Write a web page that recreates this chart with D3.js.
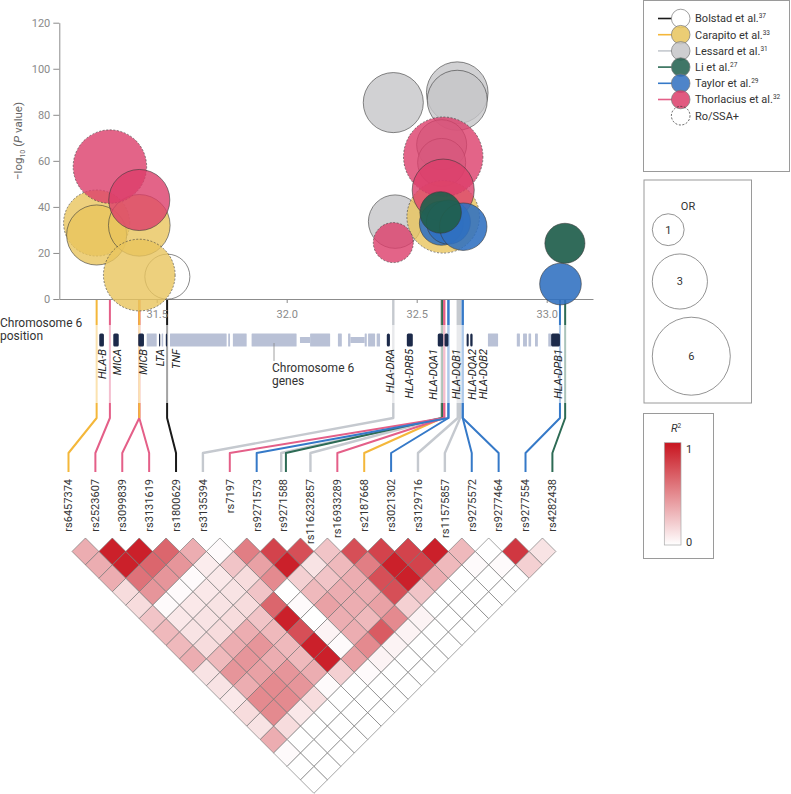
<!DOCTYPE html>
<html><head><meta charset="utf-8">
<script src="https://cdn.jsdelivr.net/npm/d3@7"></script>
<style>
body{margin:0;background:#fff;}
svg{display:block;font-family:Roboto,"Liberation Sans",Arial,sans-serif;}
</style></head><body>
<svg id="chart" width="791" height="794"></svg>
<script>
// ---------- DATA ----------
const studies = ["Bolstad et al.","Carapito et al.","Lessard et al.","Li et al.","Taylor et al.","Thorlacius et al."];
const studyRefs = ["37","33","31","27","29","32"];
const studyFill = ["#ffffff","#e8c45c","#c6c6c8","#1f5e4c","#2f6fc0","#dc3d6a"];
const studyLine = ["#1a1a1a","#f4b73a","#c5c9cf","#2d6b55","#3579c8","#e45f88"];
const bubbleDrawOrder = ["Bolstad et al.","Lessard et al.","Carapito et al.","Thorlacius et al.","Taylor et al.","Li et al."];

const bubbleStudy = ["Thorlacius et al.","Thorlacius et al.","Carapito et al.","Carapito et al.","Carapito et al.","Carapito et al.","Bolstad et al.",
  "Lessard et al.","Lessard et al.","Lessard et al.","Lessard et al.","Lessard et al.","Lessard et al.",
  "Thorlacius et al.","Thorlacius et al.","Thorlacius et al.","Carapito et al.","Taylor et al.","Taylor et al.","Taylor et al.","Li et al.","Li et al.","Taylor et al."];
const bubblePos = [31.320,31.433,31.269,31.269,31.433,31.433,31.541,
  32.410,32.656,32.656,32.417,32.596,32.596,
  32.602,32.602,32.410,32.602,32.595,32.622,32.679,32.592,33.070,33.053];
const bubbleLogP = [57.5,43.0,33.0,27.8,32.0,10.4,9.7,
  85.3,89.6,86.3,33.6,67.0,59.3,
  61.8,47.3,24.5,35.7,32.9,33.4,31.4,37.6,24.2,6.5];
const bubbleOR = [5.33,3.68,4.31,3.56,3.75,5.07,2.0,
  3.56,3.75,3.56,2.82,2.47,2.28,
  6.23,3.8,1.58,5.2,1.91,1.91,2.22,1.7,1.58,1.71];
const bubbleRo = [true,false,true,false,false,true,false,
  false,false,false,false,false,false,
  true,false,true,true,false,false,false,false,false,false];

const yTicks = [0,20,40,60,80,100,120];
const xTicks = [31.5,32.0,32.5,33.0];
const orLegend = [1,3,6];

const snps = ["rs6457374","rs2523607","rs3099839","rs3131619","rs1800629","rs3135394","rs7197","rs9271573","rs9271588",
  "rs116232857","rs16933289","rs2187668","rs3021302","rs3129716","rs11575857","rs9275572","rs9277464","rs9277554","rs4282438"];

// connections (draw order)
const connStudy = ["Lessard et al.","Lessard et al.","Lessard et al.","Lessard et al.","Lessard et al.",
  "Carapito et al.","Carapito et al.","Li et al.","Li et al.",
  "Thorlacius et al.","Thorlacius et al.","Thorlacius et al.","Carapito et al.","Thorlacius et al.","Thorlacius et al.",
  "Taylor et al.","Taylor et al.","Taylor et al.","Taylor et al.","Taylor et al.","Bolstad et al."];
const connPos = [32.410,32.596,32.596,32.658,32.667,
  31.269,32.598,32.598,33.071,
  31.320,31.433,31.433,31.433,32.606,32.606,
  32.622,32.622,32.677,32.677,33.051,31.540];
const connSnp = [5,8,9,13,14, 0,11,8,18, 1,2,3,-1,6,10, 7,12,15,16,17,4];

// genes (Mb)
const geneStart = [31.4615,31.519,31.551,31.775,31.793,31.865,32.051,32.09,32.197,32.236,32.245,32.30,32.313,32.346,32.774,32.885,32.909,32.93,32.955,33.006,
  31.279,31.333,31.429,31.509,31.535,32.385,32.462,32.581,32.607,32.692,32.706,33.017];
const geneEnd = [31.5,31.525,31.769,31.782,31.846,32.038,32.09,32.167,32.212,32.245,32.30,32.308,32.34,32.359,32.813,32.897,32.924,32.94,32.966,33.017,
  31.297,31.354,31.451,31.513,31.54,32.397,32.485,32.602,32.622,32.70,32.715,33.051];
const geneKind = ["l","l","l","l","l","l","t","l","l","l","t","l","l","l","l","l","l","l","l","l",
  "n","n","n","n","n","n","n","n","n","n","n","n"];
const geneLabels = ["HLA-B","MICA","MICB","LTA","TNF","HLA-DRA","HLA-DRB5","HLA-DQA1","HLA-DQB1","HLA-DQA2","HLA-DQB2","HLA-DPB1"];
const geneLabelPos = [31.292,31.347,31.447,31.512,31.574,32.397,32.472,32.564,32.651,32.712,32.756,33.045];

// LD r2, rows by SNP distance (1..18)
const ldByDistance = [
  [0.35,0.95,0.95,0.65,0.35,0.02,0.55,0.8,0.75,0.25,0.75,0.8,0.8,0.95,0.3,0.0,0.85,0.12],
  [0.35,0.95,0.65,0.45,0.08,0.25,0.4,0.95,0.12,0.3,0.55,0.95,0.8,0.3,0.02,0.02,0.2],
  [0.35,0.6,0.45,0.02,0.1,0.15,0.5,0.2,0.25,0.35,0.75,0.95,0.35,0,0,0],
  [0.15,0.45,0.02,0.1,0.12,0.25,0.0,0.3,0.35,0.35,0.75,0.25,0,0,0],
  [0.15,0.02,0.1,0.12,0.15,0.65,0.02,0.4,0.35,0.4,0.2,0,0,0],
  [0.25,0.1,0.12,0.15,0.25,0.95,0.0,0.35,0.3,0.5,0.05,0,0],
  [0.3,0.12,0.15,0.35,0.3,0.75,0.05,0.35,0.7,0.05,0,0],
  [0.3,0.15,0.35,0.45,0.3,0.95,0.02,0.5,0.05,0,0],
  [0.35,0.3,0.45,0.35,0.3,0.95,0.4,0.05,0,0],
  [0.12,0.45,0.4,0.45,0.35,0.2,0.02,0,0],
  [0.12,0.35,0.5,0.45,0.02,0,0,0],
  [0.1,0.5,0.5,0.15,0,0,0],
  [0.15,0.5,0.1,0,0,0],
  [0.12,0.15,0,0,0],
  [0.35,0,0,0],
  [0.02,0,0],
  [0,0],
  [0]
];

// ---------- SCALES ----------
const svg = d3.select("#chart");
const xPos = d3.scaleLinear().domain([31.5,33.0]).range([156.7,546.7]);
const yP = d3.scaleLinear().domain([0,120]).range([299,22.7]);
const rOR = d3.scaleSqrt().domain([0,6]).range([0,39]);
const snpX = d3.scaleLinear().domain([0,18]).range([68.5,552.4]);
const ldX = d3.scaleLinear().domain([0,18]).range([72.0,555.9]);
const ldY = d3.scaleLinear().domain([0,18]).range([538,779.9]);
const ldColor = d3.scaleLinear().domain([0,1]).range(["#ffffff","#c8141f"]).interpolate(d3.interpolateRgb);
const sIdx = s => studies.indexOf(s);
const gray = "#8c8c8c";

// ---------- LD HEATMAP ----------
const cells = [];
ldByDistance.forEach((row,k)=>row.forEach((v,i)=>cells.push({i,j:i+k+1,d:k+1,v})));
const hh = (ldX(1)-ldX(0))/2;
svg.append("g").selectAll("path").data(cells).join("path")
  .attr("d",c=>{const cx=(ldX(c.i)+ldX(c.j))/2, cy=ldY(c.d);
    return `M${cx},${cy-hh}L${cx+hh},${cy}L${cx},${cy+hh}L${cx-hh},${cy}Z`;})
  .attr("fill",c=>ldColor(c.v)).attr("stroke","#747474").attr("stroke-width",0.65);

// ---------- CONNECTOR LINES ----------
const lane = {};
connSnp.forEach((s,k)=>{ if(s>=0){ (lane[s]=lane[s]||[]).push(k);} });
const laneOff = connSnp.map((s,k)=>{ if(s<0) return 0; const g=lane[s]; return (g.indexOf(k)-(g.length-1)/2)*4.7; });
const line = d3.line();
const yAxis0 = yP(0);
svg.append("g").selectAll("path").data(connStudy.map((s,k)=>k)).join("path")
  .attr("d",k=>{const xa=xPos(connPos[k]);
     if(connSnp[k]<0) return line([[xa,yAxis0],[xa,418]]);
     const xs=snpX(connSnp[k])+laneOff[k];
     return line([[xa,yAxis0],[xa,418],[xs,453],[xs,472]]);})
  .attr("fill","none").attr("stroke",k=>studyLine[sIdx(connStudy[k])])
  .attr("stroke-width",k=>connStudy[k]==="Lessard et al."?2.4:2)
  .attr("stroke-linejoin","round");

// fade band over the gene region
svg.append("rect").attr("x",50).attr("y",325).attr("width",560).attr("height",78)
  .attr("fill","#fff").attr("opacity",0.6);

// ---------- GENE TRACK ----------
const gy = 340;
svg.append("g").selectAll("rect").data(geneStart.map((s,k)=>k)).join("rect")
  .attr("x",k=>xPos(geneStart[k])).attr("width",k=>Math.max(1.2,xPos(geneEnd[k])-xPos(geneStart[k])))
  .attr("y",k=>geneKind[k]==="t"?gy-3:gy-6.5).attr("height",k=>geneKind[k]==="t"?6:13)
  .attr("rx",k=>geneKind[k]==="n"?1.5:0.5)
  .attr("fill",k=>geneKind[k]==="n"?"#1c2a4a":"#b9c1d6");

svg.append("g").selectAll("text").data(geneLabels).join("text")
  .attr("transform",(g,k)=>`translate(${xPos(geneLabelPos[k])},349) rotate(-90)`)
  .attr("text-anchor","end").attr("dy","0.35em").attr("font-size",11).attr("font-style","italic")
  .attr("fill","#222").text(g=>g);

svg.append("line").attr("x1",274).attr("x2",274).attr("y1",343).attr("y2",361).attr("stroke","#888").attr("stroke-width",0.8);
const tg = svg.append("text").attr("font-size",12).attr("fill","#333");
tg.append("tspan").attr("x",272).attr("y",372).text("Chromosome 6");
tg.append("tspan").attr("x",272).attr("y",385).text("genes");
const tp = svg.append("text").attr("font-size",12).attr("fill","#333");
tp.append("tspan").attr("x",0).attr("y",327).text("Chromosome 6");
tp.append("tspan").attr("x",0).attr("y",340).text("position");

// ---------- SNP LABELS ----------
svg.append("g").selectAll("text").data(snps).join("text")
  .attr("transform",(s,i)=>`translate(${snpX(i)},479) rotate(-90)`)
  .attr("text-anchor","end").attr("dy","0.35em").attr("font-size",11).attr("fill","#333").text(s=>s);

// ---------- AXES ----------
const yAx = svg.append("g").attr("transform",`translate(59.3,0)`)
  .call(d3.axisLeft(yP).tickValues(yTicks).tickSize(6).tickSizeOuter(0).tickPadding(3));
const xAxScale = xPos.copy().domain([31.125,33.178]).range([xPos(31.125),xPos(33.178)]);
const xAx = svg.append("g").attr("transform",`translate(0,${yAxis0})`)
  .call(d3.axisBottom(xAxScale).tickValues(xTicks).tickFormat(d3.format(".1f")).tickSize(4).tickSizeOuter(0).tickPadding(7));
[yAx,xAx].forEach(a=>{
  a.select(".domain").attr("stroke",gray);
  a.selectAll(".tick line").attr("stroke",gray);
  a.selectAll(".tick text").attr("fill","#8a8a8a").attr("font-size",11).attr("font-family","Roboto,'Liberation Sans',Arial,sans-serif");
});
const yl = svg.append("text").attr("transform","translate(22,141) rotate(-90)").attr("text-anchor","middle")
  .attr("font-size",11.5).attr("fill","#666");
yl.append("tspan").text("\u2212log");
yl.append("tspan").attr("font-size",7).attr("dy",3).text("10");
yl.append("tspan").attr("dy",-3).text(" (");
yl.append("tspan").attr("font-style","italic").text("P");
yl.append("tspan").text(" value)");

// ---------- BUBBLES ----------
const bIdx = bubbleStudy.map((s,k)=>k).sort((a,b)=>
  (bubbleDrawOrder.indexOf(bubbleStudy[a])-bubbleDrawOrder.indexOf(bubbleStudy[b])) || (a-b));
const fillOp = {"Bolstad et al.":0.4,"Carapito et al.":0.8,"Lessard et al.":0.8,"Li et al.":0.92,"Taylor et al.":0.88,"Thorlacius et al.":0.8};
svg.append("g").selectAll("circle").data(bIdx).join("circle")
  .attr("cx",k=>xPos(bubblePos[k])).attr("cy",k=>yP(bubbleLogP[k])).attr("r",k=>rOR(bubbleOR[k]))
  .attr("fill",k=>studyFill[sIdx(bubbleStudy[k])]).attr("fill-opacity",k=>fillOp[bubbleStudy[k]])
  .attr("stroke","#3a3a3a").attr("stroke-width",0.7).attr("stroke-opacity",0.85)
  .attr("stroke-dasharray",k=>bubbleRo[k]?"2,1.6":null);

// ---------- LEGEND 1 ----------
svg.append("rect").attr("x",643.5).attr("y",0.5).attr("width",146).attr("height",171)
  .attr("fill","none").attr("stroke","#9a9a9a");
const lg = svg.append("g");
studies.forEach((s,k)=>{
  const y = 18.5+16.2*k;
  lg.append("line").attr("x1",658).attr("x2",672).attr("y1",y).attr("y2",y).attr("stroke",studyLine[k]).attr("stroke-width",1.6);
  lg.append("circle").attr("cx",680.7).attr("cy",y).attr("r",9.3).attr("fill",studyFill[k])
    .attr("fill-opacity",k===0?1:0.85).attr("stroke","#777").attr("stroke-width",0.7);
  const t = lg.append("text").attr("x",695).attr("y",y).attr("dy","0.35em").attr("font-size",11).attr("fill","#333");
  t.append("tspan").text(s);
  t.append("tspan").attr("font-size",6.5).attr("dy",-4).text(studyRefs[k]);
});
{
  const y = 18.5+16.2*6;
  lg.append("circle").attr("cx",680.7).attr("cy",y).attr("r",9.3).attr("fill","none")
    .attr("stroke","#333").attr("stroke-width",0.8).attr("stroke-dasharray","2,1.6");
  lg.append("text").attr("x",695).attr("y",y).attr("dy","0.35em").attr("font-size",11).attr("fill","#333").text("Ro/SSA+");
}

// ---------- LEGEND 2 (OR) ----------
svg.append("rect").attr("x",644).attr("y",180).attr("width",107.5).attr("height",223)
  .attr("fill","none").attr("stroke","#9a9a9a");
svg.append("text").attr("x",688).attr("y",206).attr("dy","0.35em").attr("text-anchor","middle")
  .attr("font-size",11).attr("fill","#333").text("OR");
const orCy = [229.7,281.5,356.2];
orLegend.forEach((o,k)=>{
  const r = rOR(o);
  svg.append("circle").attr("cx",652.3+r).attr("cy",orCy[k]).attr("r",r).attr("fill","none").attr("stroke","#666").attr("stroke-width",0.7);
  svg.append("text").attr("x",652.3+r).attr("y",orCy[k]).attr("dy","0.35em").attr("text-anchor","middle")
    .attr("font-size",11).attr("fill","#333").text(o);
});

// ---------- LEGEND 3 (R2) ----------
svg.append("rect").attr("x",643.5).attr("y",413.5).attr("width",70).attr("height",145)
  .attr("fill","none").attr("stroke","#9a9a9a");
const grad = svg.append("defs").append("linearGradient").attr("id","r2g").attr("x1",0).attr("x2",0).attr("y1",1).attr("y2",0);
[0,0.25,0.5,0.75,1].forEach(t=>grad.append("stop").attr("offset",t).attr("stop-color",ldColor(t)));
svg.append("rect").attr("x",664.3).attr("y",442.7).attr("width",16.7).attr("height",102.3)
  .attr("fill","url(#r2g)").attr("stroke","#aaa").attr("stroke-width",0.7);
const r2 = svg.append("text").attr("x",676).attr("y",428).attr("dy","0.35em").attr("text-anchor","middle")
  .attr("font-size",11).attr("fill","#333");
r2.append("tspan").attr("font-style","italic").text("R");
r2.append("tspan").attr("font-size",6.5).attr("dy",-4).text("2");
svg.append("text").attr("x",686).attr("y",449).attr("dy","0.35em").attr("font-size",11).attr("fill","#333").text("1");
svg.append("text").attr("x",686).attr("y",542).attr("dy","0.35em").attr("font-size",11).attr("fill","#333").text("0");
</script>
</body></html>
